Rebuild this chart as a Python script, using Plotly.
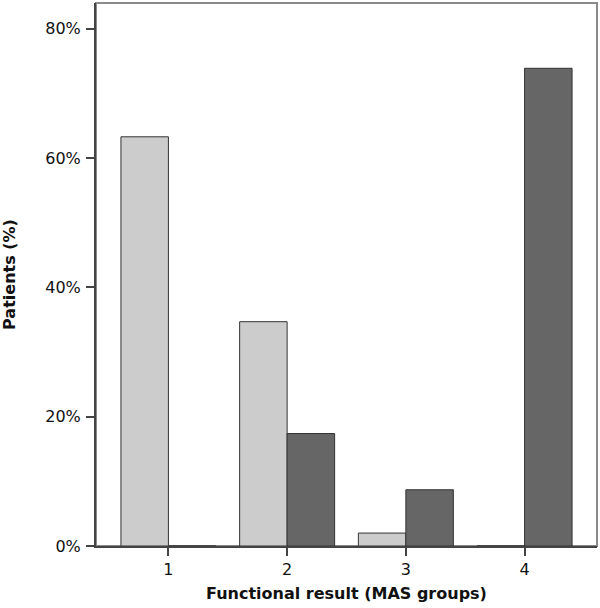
import plotly.graph_objects as go

categories = ["1", "2", "3", "4"]
series_a = [63.3, 34.7, 2.0, 0.0]   # light grey group
series_b = [0.0, 17.4, 8.7, 73.9]   # dark grey group
y_ticks = [0, 20, 40, 60, 80]
y_tick_labels = ["0%", "20%", "40%", "60%", "80%"]

fig = go.Figure()
fig.add_trace(go.Bar(x=categories, y=series_a, name="A",
                     marker=dict(color="#cccccc", line=dict(color="#333333", width=1))))
fig.add_trace(go.Bar(x=categories, y=series_b, name="B",
                     marker=dict(color="#666666", line=dict(color="#333333", width=1))))

font_family = "DejaVu Sans, Verdana, sans-serif"
fig.update_layout(
    width=600, height=608,
    margin=dict(l=96, r=3, t=3, b=62, autoexpand=False),
    barmode="group", bargap=0.2, bargroupgap=0,
    showlegend=False,
    plot_bgcolor="white", paper_bgcolor="white",
    font=dict(family=font_family, size=16, color="#111111"),
    shapes=[dict(type="rect", xref="paper", yref="paper", x0=0, y0=0, x1=1, y1=1,
                 line=dict(color="#8a8a8a", width=2), layer="below")],
)
fig.update_xaxes(
    type="category", range=[-0.61, 3.61],
    showline=True, linecolor="#444444", linewidth=2,
    ticks="outside", ticklen=8, tickcolor="#444444", tickwidth=2,
    showgrid=False, zeroline=False, automargin=False,
    title=dict(text="<b>Functional result (MAS groups)</b>", font=dict(size=16), standoff=10),
)
fig.update_yaxes(
    range=[0, 84], tickvals=y_ticks, ticktext=y_tick_labels,
    showline=True, linecolor="#444444", linewidth=2,
    ticks="outside", ticklen=8, tickcolor="#444444", tickwidth=2,
    ticklabelstandoff=2,
    showgrid=False, zeroline=False, automargin=False,
    title=dict(text="<b>Patients (%)</b>", font=dict(size=16), standoff=31),
)

fig.write_html("out.html", config={"displayModeBar": False},
               post_script="document.body.style.margin='0';")
